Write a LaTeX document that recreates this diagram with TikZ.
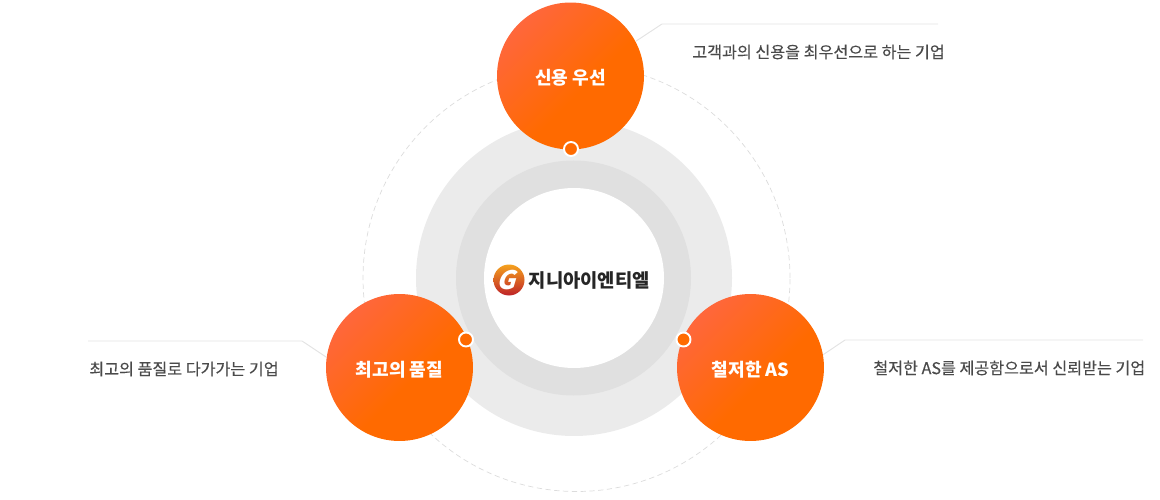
\documentclass[tikz,border=0pt]{standalone}
\usepackage{fontspec}
\setmainfont{Noto Sans CJK KR}
\newfontfamily\capfont[FakeBold=0.25]{Noto Sans CJK KR}
\usetikzlibrary{positioning, calc}
\definecolor{ringlight}{HTML}{EBEBEB}
\definecolor{ringdark}{HTML}{E0E0E0}
\definecolor{leadgray}{HTML}{E3E3E3}
\definecolor{dashgray}{HTML}{DCDCDC}
\definecolor{textgray}{HTML}{4A4A4A}
\definecolor{orangemain}{HTML}{FF6A00}
\definecolor{orangelight}{HTML}{FF6645}
\definecolor{logotop}{HTML}{F5A21E}
\definecolor{logobottom}{HTML}{BE2328}
\pgfdeclareverticalshading{topicshade}{100bp}{color(0bp)=(orangemain); color(44bp)=(orangemain); color(80bp)=(orangelight); color(100bp)=(orangelight)}
\begin{document}
\begin{tikzpicture}[
        x=0.02cm, y=-0.02cm,
        ring/.style={circle, inner sep=0pt, minimum size=#1*0.02cm},
        topic/.style={circle, inner sep=0pt, minimum size=2.94cm,
            shading=topicshade, shading angle=45,
            text=white, text height=1.12em, text depth=0.12em, font=\fontsize{10.3}{12}\selectfont\bfseries},
        dot/.style={circle, draw=white, line width=1.1pt, fill=orangemain, inner sep=0pt, minimum size=0.28cm},
        lead/.style={draw=leadgray, line width=0.55pt},
        caption/.style={inner sep=0pt, text=textgray, font=\fontsize{9.2}{11}\capfont}
    ]
    \useasboundingbox (0,0) rectangle (1160,500);

    % --- Rings ---
    \node[ring=427, draw=dashgray, densely dashed, line width=0.4pt] (guide) at (576.5,278) {};
    \node[ring=316, fill=ringlight] (outer) at (574,278) {};
    \node[ring=235, fill=ringdark] (middle) at (573.5,278) {};
    \node[ring=180, fill=white] (inner) at (574,278) {};

    % --- Logo ---
    \node[ring=31, top color=logotop, bottom color=logobottom] (logomark) at (509,280) {};
    \node[inner sep=0pt, xslant=0.3, text=white, font=\fontsize{14.5}{15}\selectfont\bfseries] (logog) at (logomark) {G};
    \node[inner sep=0pt, right=2pt of logomark, text=black!85, font=\fontsize{10.7}{13}\selectfont\bfseries] (logotext) {지니아이엔티엘};

    % --- Leaders ---
    \coordinate (creditbend) at (662,24);
    \coordinate (creditend) at (938,24);
    \coordinate (qualitybend) at (302,341);
    \coordinate (qualityend) at (88,341);
    \coordinate (servicebend) at (845,340);
    \coordinate (serviceend) at (1143,340);

    % --- Topics ---
    \node[topic] (credit) at (570.5,76) {신용 우선};
    \node[topic] (quality) at (399.5,367.5) {최고의 품질};
    \node[topic] (service) at (750.5,367.5) {철저한 AS};

    \node[dot] (creditdot) at (571,149) {};
    \node[dot] (qualitydot) at (466,339.5) {};
    \node[dot] (servicedot) at (683.5,339.5) {};

    \draw[lead] (credit.28) -- (creditbend) -- (creditend);
    \draw[lead] (quality.172) -- (qualitybend) -- (qualityend);
    \draw[lead] (service.10) -- (servicebend) -- (serviceend);

    % --- Captions ---
    \node[caption, anchor=west] (creditnote) at (692,52) {고객과의 신용을 최우선으로 하는 기업};
    \node[caption, anchor=west] (qualitynote) at (89,369) {최고의 품질로 다가가는 기업};
    \node[caption, anchor=west] (servicenote) at (873,368) {철저한 AS를 제공함으로서 신뢰받는 기업};

\end{tikzpicture}
\end{document}
